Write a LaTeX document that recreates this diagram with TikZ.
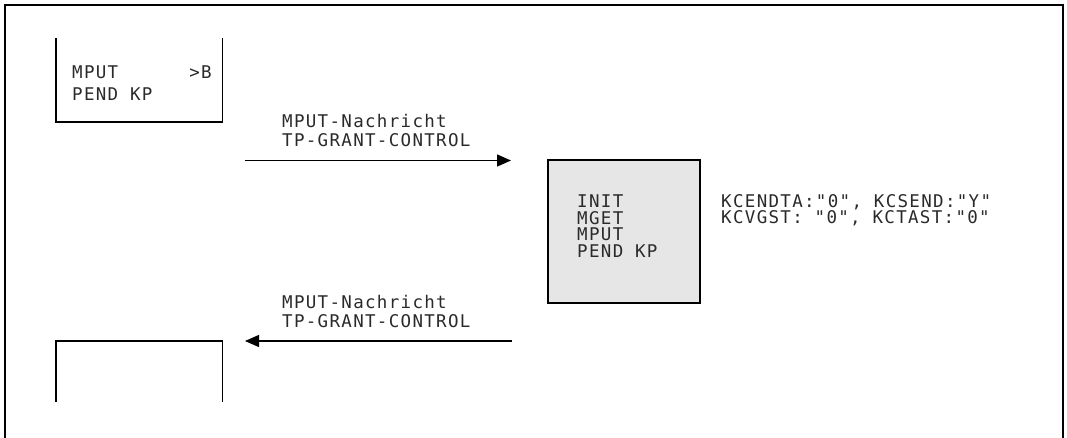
\documentclass[tikz,border=0pt]{standalone}
\usepackage{fontspec}
\usetikzlibrary{arrows.meta}
\newfontfamily\monof{DejaVu Sans Mono}[LetterSpace=7.5]
\definecolor{boxgray}{HTML}{E6E6E6}
\definecolor{txtgray}{HTML}{2A2A2A}
\newcommand\tightlines{\lineskiplimit=-30pt\relax}
\begin{document}
\begin{tikzpicture}[x=1pt,y=-1pt,
  line/.style={line width=1.4pt},
  txt/.style={anchor=base west,inner sep=0pt,align=left,text=txtgray,
    font=\monof\fontsize{17.5}{16.4}\selectfont\tightlines},
  msg/.style={line width=1.4pt,-{Triangle[length=14pt,width=12pt]}}]
\useasboundingbox (0,0) rectangle (1067,438);
% outer frame (open at bottom)
\draw[line] (5,438) -- (5,5) -- (1063,5) -- (1063,438);
% top-left box (open at top)
\node[minimum width=166pt,minimum height=84pt,inner sep=0pt] (boxA) at (139,80) {};
\draw[line] (boxA.north west) -- (boxA.south west) -- (boxA.south east) -- (boxA.north east);
\node[txt,font=\monof\fontsize{17.5}{22}\selectfont\tightlines] (textA) at (72,101) {MPUT\ \ \ \ \ \ >B\\PEND KP};
% bottom-left box (open at bottom)
\node[minimum width=166pt,minimum height=61pt,inner sep=0pt] (boxB) at (139,371.5) {};
\draw[line] (boxB.south west) -- (boxB.north west) -- (boxB.north east) -- (boxB.south east);
% gray box
\node[draw,line width=1.4pt,fill=boxgray,minimum width=152pt,minimum height=143pt,inner sep=0pt] (boxC) at (624,231.5) {};
\node[txt] (textC) at (577,257) {INIT\\MGET\\MPUT\\PEND KP};
\node[txt,font=\monof\fontsize{17.5}{17}\selectfont\tightlines] (textD) at (721,224) {KCENDTA:"0", KCSEND:"Y"\\KCVGST: "0", KCTAST:"0"};
% arrows
\coordinate (a1s) at (245,160.5);
\coordinate (a1e) at (511,160.5);
\draw[msg] (a1s) -- (a1e);
\node[txt,font=\monof\fontsize{17.5}{19}\selectfont\tightlines] (lab1) at (282,147) {MPUT-Nachricht\\TP-GRANT-CONTROL};
\coordinate (a2s) at (512,341);
\coordinate (a2e) at (245,341);
\draw[msg] (a2s) -- (a2e);
\node[txt,font=\monof\fontsize{17.5}{19}\selectfont\tightlines] (lab2) at (282,327) {MPUT-Nachricht\\TP-GRANT-CONTROL};
\end{tikzpicture}
\end{document}
